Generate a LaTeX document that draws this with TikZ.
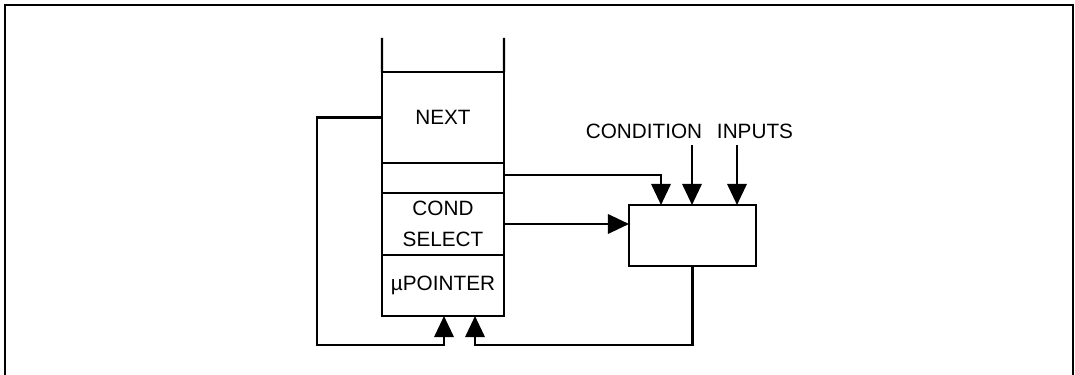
\documentclass[tikz,border=0pt]{standalone}
\usepackage{fontspec}
\setmainfont{Liberation Sans}
\usetikzlibrary{arrows.meta}
\begin{document}
\begin{tikzpicture}[x=0.02cm,y=-0.02cm,
  line width=1.4pt,
  every node/.style={font=\fontsize{11.8}{18}\selectfont},
  reg/.style={draw,rectangle,minimum width=2.44cm,inner sep=0pt,outer sep=0pt,align=center},
  logicbox/.style={draw,rectangle,minimum width=2.54cm,minimum height=1.22cm,inner sep=0pt,outer sep=0pt},
  lbl/.style={inner sep=1pt},
  tip/.style={-{Triangle[length=12pt,width=11pt]}}]
\useasboundingbox (0,0) rectangle (1075,375);
% frame
\draw (5,375) -- (5,5) -- (1073,5) -- (1073,375);
% stack
\node[reg,minimum height=1.82cm] (next) at (443,117.5) {NEXT};
\node[reg,minimum height=0.60cm] (blank) at (443,178) {};
\node[reg,minimum height=1.24cm] (cond) at (443,224) {COND\\SELECT};
\node[reg,minimum height=1.22cm] (ptr) at (443,285.5) {\textmu POINTER};
\coordinate (tl) at (382,38);
\coordinate (tr) at (504,38);
\draw (tl) -- (next.north west);
\draw (tr) -- (next.north east);
% logic box
\node[logicbox] (logic) at (692.5,235.5) {};
% labels
\node[lbl] (condlbl) at (644,131) {CONDITION};
\node[lbl] (inlbl) at (755,131) {INPUTS};
\coordinate (c1) at (692,145);
\coordinate (c2) at (737,145);
\draw[tip] (c1) -- (c1 |- logic.north);
\draw[tip] (c2) -- (c2 |- logic.north);
% connections
\draw[tip] (blank.east |- 0,175) -| (661,0 |- logic.north);
\draw[tip] (cond.east) -- (cond.east -| logic.west);
\coordinate (fbL) at (317,345);
\draw[tip] (next.west) -| (fbL) -| (444,0 |- ptr.south);
\coordinate (fbR) at (475,345);
\draw[tip] (logic.south) |- (fbR) -- (475,0 |- ptr.south);
\end{tikzpicture}
\end{document}
